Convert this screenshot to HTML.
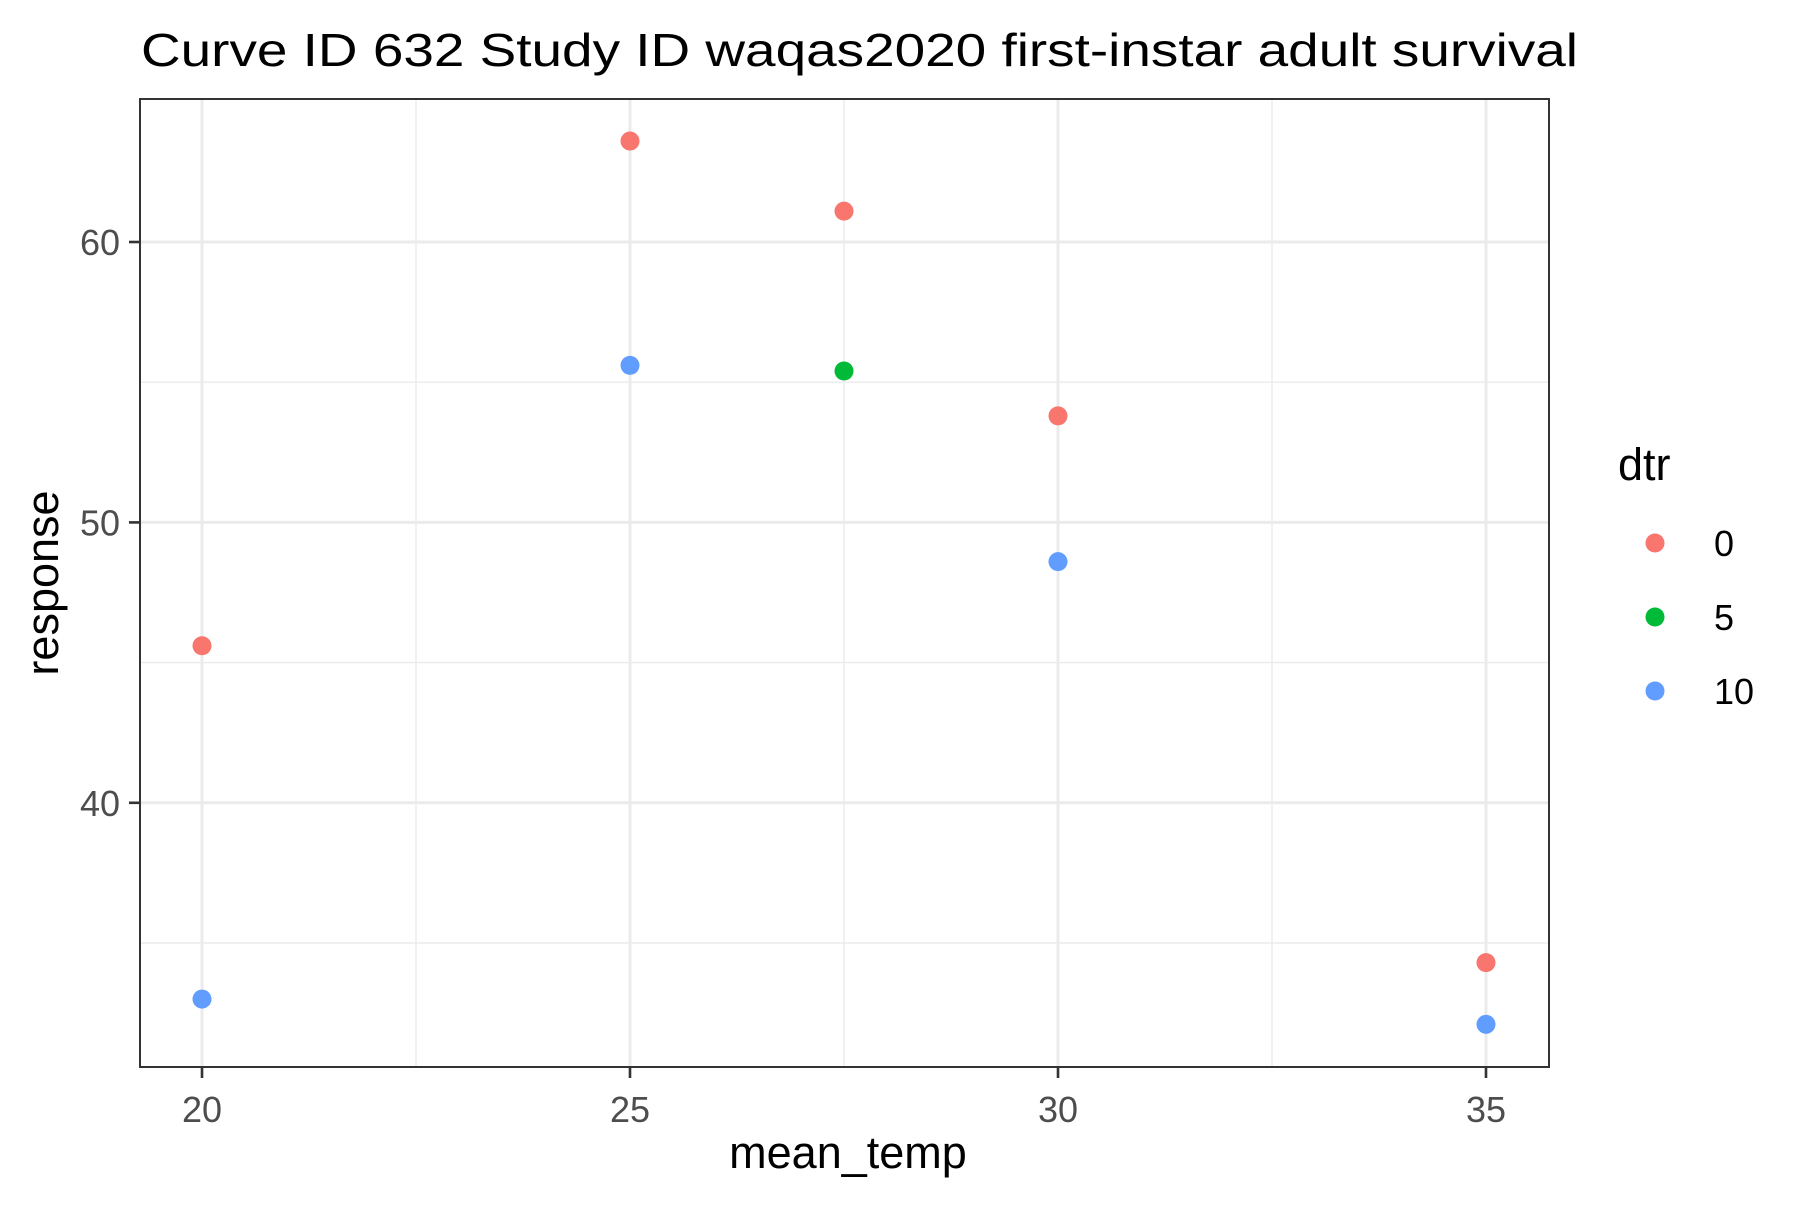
<!DOCTYPE html>
<html><head><meta charset="utf-8"><style>
body{margin:0;background:#fff;}
svg text{font-family:"Liberation Sans",Arial,sans-serif;}
</style></head><body>
<svg id="chart" width="1800" height="1200" viewBox="0 0 1800 1200" xmlns="http://www.w3.org/2000/svg">
<rect width="1800" height="1200" fill="#fff"/>
<text x="141" y="66" font-size="46" fill="#000" textLength="1437" lengthAdjust="spacingAndGlyphs">Curve ID 632 Study ID waqas2020 first-instar adult survival</text>
<g id="grid"></g>
<g id="points"></g>
<rect x="140" y="99" width="1409" height="968" fill="none" stroke="#333" stroke-width="2"/>
<g id="axes"></g>
<text x="848" y="1168" font-size="45" text-anchor="middle" fill="#000">mean_temp</text>
<text transform="translate(58,583) rotate(-90)" font-size="45" text-anchor="middle" fill="#000">response</text>
<g id="legend"></g>
</svg>
<script>
const xVals=[20,20,25,25,27.5,27.5,30,30,35,35];
const yVals=[45.6,33.0,63.6,55.6,61.1,55.4,53.8,48.6,34.3,32.1];
const groups=["0","10","0","10","0","5","0","10","0","10"];
const legendLevels=["0","5","10"];
const xTicks=[20,25,30,35];
const yTicks=[40,50,60];
const xMinor=[22.5,27.5,32.5];
const yMinor=[35,45,55];
const colors={"0":"#F8766D","5":"#00BA38","10":"#619CFF"};
const NS="http://www.w3.org/2000/svg";
const L=140,R=1549,T=99,B=1067;
function sx(v){return 202+(v-20)*(1486-202)/15;}
function sy(v){return 242+(60-v)*28.04;}
function mk(tag,attrs,parent){const e=document.createElementNS(NS,tag);for(const k in attrs)e.setAttribute(k,attrs[k]);parent.appendChild(e);return e;}
const grid=document.getElementById('grid'),pts=document.getElementById('points'),axes=document.getElementById('axes'),leg=document.getElementById('legend');
xMinor.forEach(v=>{const l=mk('line',{x1:sx(v),x2:sx(v),y1:T,y2:B,stroke:'#ebebeb','stroke-width':1.4},grid);

});
yMinor.forEach(v=>{const l=mk('line',{x1:L,x2:R,y1:sy(v),y2:sy(v),stroke:'#ebebeb','stroke-width':1.4},grid);

});
xTicks.forEach(v=>{const l=mk('line',{x1:sx(v),x2:sx(v),y1:T,y2:B,stroke:'#ebebeb','stroke-width':3},grid);


const t=mk('line',{x1:sx(v),x2:sx(v),y1:B,y2:B+11,stroke:'#333','stroke-width':2.6},axes);


const tx=mk('text',{x:sx(v),y:1122,'font-size':36,'text-anchor':'middle',fill:'#4d4d4d'},axes);tx.textContent=v;

});
yTicks.forEach(v=>{const l=mk('line',{x1:L,x2:R,y1:sy(v),y2:sy(v),stroke:'#ebebeb','stroke-width':3},grid);


const t=mk('line',{x1:L-11,x2:L,y1:sy(v),y2:sy(v),stroke:'#333','stroke-width':2.6},axes);


const tx=mk('text',{x:120,y:sy(v)+13,'font-size':36,'text-anchor':'end',fill:'#4d4d4d'},axes);tx.textContent=v;

});
xVals.forEach((x,i)=>{const c=mk('circle',{cx:sx(x),cy:sy(yVals[i]),r:9.5,fill:colors[groups[i]]},pts);

});
const lt=mk('text',{x:1627-9,y:480,'font-size':45,fill:'#000'},leg);lt.textContent='dtr';


legendLevels.forEach((g,i)=>{const y=543+i*74;
const c=mk('circle',{cx:1663-8,cy:y,r:9.5,fill:colors[g]},leg);


const t=mk('text',{x:1722-8,y:y+13,'font-size':36,fill:'#000'},leg);t.textContent=g;

});
</script>
</body></html>
